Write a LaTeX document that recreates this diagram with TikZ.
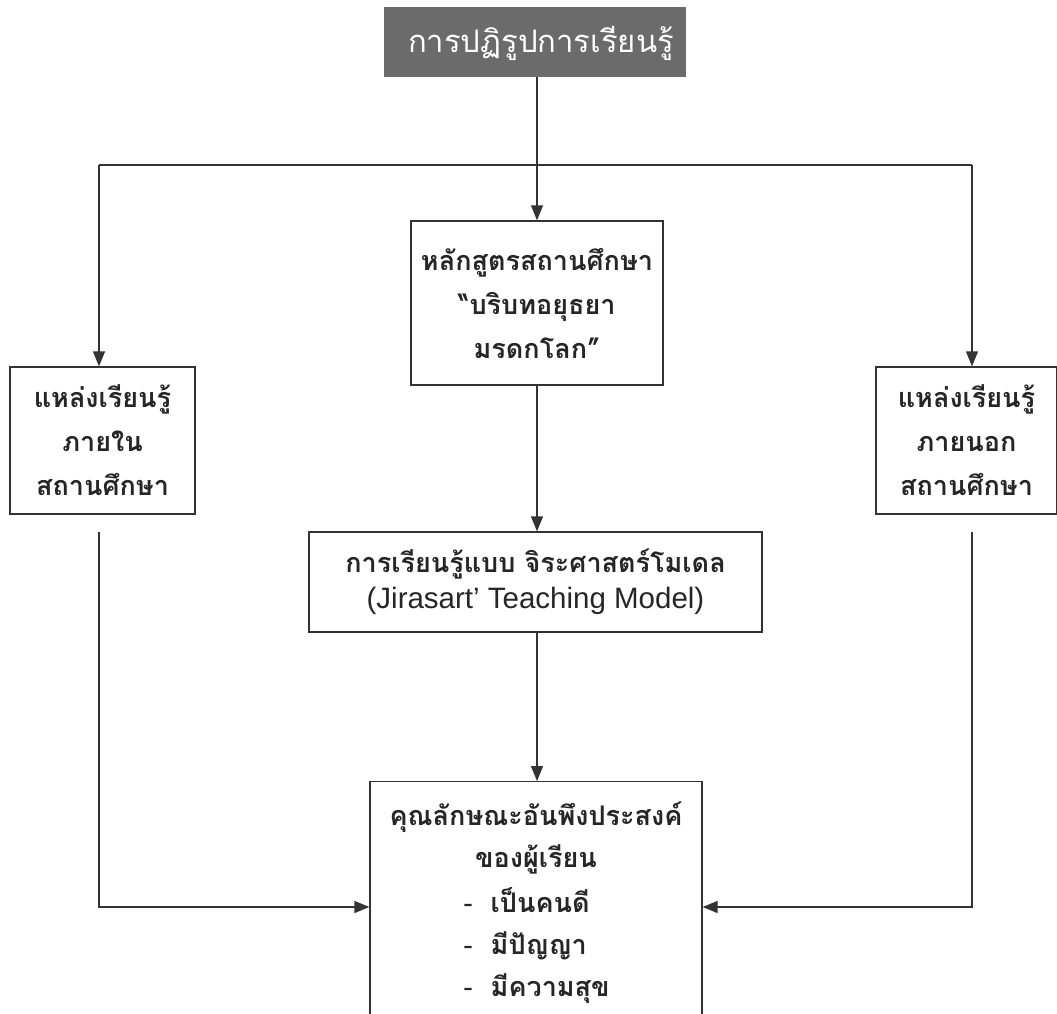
\documentclass[tikz,border=0pt]{standalone}
\usepackage{fontspec}
\setmainfont{Loma}[Script=Thai]
\newfontfamily\latinfont{Liberation Sans}
\usetikzlibrary{arrows.meta}
\definecolor{titlegray}{HTML}{6B6B6B}
\definecolor{linegray}{HTML}{333333}
\tikzset{
  box/.style={draw=linegray, line width=1.3pt, fill=white, align=center,
    inner sep=0pt, font=\bfseries\fontsize{27}{44}\selectfont, text=black!85},
  titlebox/.style={fill=titlegray, text=white, inner sep=0pt,
    font=\fontsize{31}{40}\selectfont},
  conn/.style={draw=linegray, line width=1.3pt},
  arr/.style={conn, -{Triangle[width=12pt,length=15pt]}}
}
\begin{document}
\begin{tikzpicture}[x=1pt,y=-1pt]
  \clip (0,0) rectangle (1057,1014);
  \useasboundingbox (0,0) rectangle (1057,1014);

  % heading
  \node[titlebox, minimum width=302pt, minimum height=70pt] (title) at (535,42) {};
  \node[text=white, font=\fontsize{31}{40}\selectfont, inner sep=0pt] (titletxt) at (541,43) {การปฏิรูปการเรียนรู้};

  % school curriculum
  \node[box, minimum width=252pt, minimum height=164pt] (curr) at (537,303)
    {หลักสูตรสถานศึกษา\\“บริบทอยุธยา\\มรดกโลก”};

  % learning sources inside and outside the school
  \node[box, minimum width=185pt, minimum height=147pt] (left) at (102.5,440.5)
    {แหล่งเรียนรู้\\ภายใน\\สถานศึกษา};
  \node[box, minimum width=181pt, minimum height=147pt] (right) at (966.5,440.5)
    {แหล่งเรียนรู้\\ภายนอก\\สถานศึกษา};

  % teaching model
  \node[box, minimum width=453pt, minimum height=100pt] (model) at (535.5,582)
    {การเรียนรู้แบบ จิระศาสตร์โมเดล\\[-8pt]{\mdseries\latinfont\fontsize{29.5}{32}\selectfont (Jirasart’ Teaching Model)}};

  % desired characteristics (box runs past the lower edge)
  \node[box, minimum width=332pt, minimum height=262pt, anchor=north] (goal) at (536,781) {};
  \node[font=\bfseries\fontsize{27}{42}\selectfont, text=black!85, align=center, anchor=north] (goaltxt) at (536,798)
    {คุณลักษณะอันพึงประสงค์\\ของผู้เรียน};
  \node[font=\bfseries\fontsize{27}{42}\selectfont, text=black!85, align=left, anchor=north west] (goallist) at (460,884)
    {{\mdseries -}\ \ เป็นคนดี\\{\mdseries -}\ \ มีปัญญา\\{\mdseries -}\ \ มีความสุข};

  % connectors
  \coordinate (split) at (537,165);
  \coordinate (lturn) at (99,165);
  \coordinate (rturn) at (972,165);
  \draw[arr] (title.south -| split) -- (curr.north -| split);
  \draw[conn] (lturn) -- (rturn);
  \draw[arr] (lturn) -- (left.north -| lturn);
  \draw[arr] (rturn) -- (right.north -| rturn);
  \draw[arr] (curr.south -| split) -- (model.north -| split);
  \draw[arr] (model.south -| split) -- (goal.north -| split);

  \coordinate (lstart) at ([yshift=-17pt]left.south -| lturn);
  \coordinate (rstart) at ([yshift=-17pt]right.south -| rturn);
  \draw[arr] (lstart) |- ([yshift=-126pt]goal.north west);
  \draw[arr] (rstart) |- ([yshift=-126pt]goal.north east);
\end{tikzpicture}
\end{document}
